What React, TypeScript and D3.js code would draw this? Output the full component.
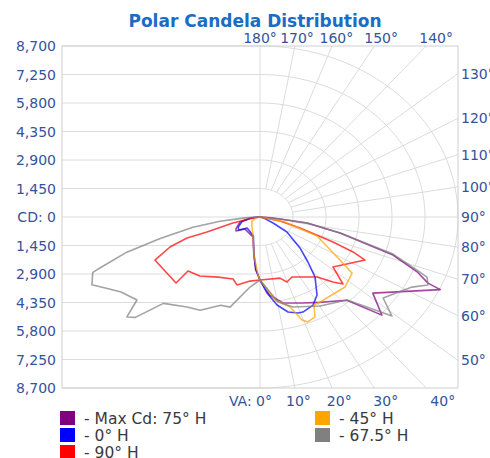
import * as d3 from "d3";

// candela values as [vertical angle, cd], right half then left half of each plane pair
const maxCdRight = [[0,3205],[6,3990],[13,4490],[23,4750],[31,5070],[42,5700],[47,7320],[52,6290],[65,8740],[65.5,8110],[68,7445],[71.7,6155],[77,3610],[81.6,2090],[86,500],[90,0]];
const maxCdLeft = [[0,3205],[4,2700],[8,1950],[17,1060],[47,900],[56,1270],[60,1220],[74,915],[83,440],[90,0]];
const h0Right = [[0,3205],[4.6,3880],[9.5,4540],[14.3,4990],[18.9,5160],[21.3,5190],[27.5,5050],[32.3,4690],[38.4,3890],[42.6,3110],[48.1,2360],[57.2,1410],[62,650],[70,200],[90,0]];
const h0Left = [[0,3205],[4,2650],[8,1900],[17,1000],[45,800],[55,1150],[62,1080],[74,820],[83,380],[90,0]];
const h90Right = [[0,3205],[15.8,3230],[19.7,3510],[24.7,3360],[39.4,3950],[44.1,4610],[46.9,4990],[51.6,4090],[64.6,5110],[66.5,4460],[68.4,3450],[72.3,1850],[77,900],[90,0]];
const h90Left = [[0,3205],[7.7,3290],[16.3,3600],[20.6,3370],[31,3570],[41.3,4000],[49,4190],[47.7,4990],[64.6,5110],[68.9,4240],[71.6,3380],[71.9,2450],[75.6,1230],[80.6,310],[90,0]];
const h45Right = [[0,3205],[8.9,4270],[16.1,4770],[19.4,5560],[21.5,5740],[25.4,5630],[27.9,5070],[31.4,5070],[46.4,5160],[54.8,4950],[59,3950],[68.9,2690],[77,1130],[90,0]];
const h45Left = [[0,3205],[1.7,2950],[7.8,1950],[18.6,970],[40,560],[60,410],[75,200],[90,0]];
const h67Right = [[0,3205],[10.4,4400],[17.6,4800],[30.2,5240],[42.2,5700],[49,7680],[52.7,6800],[61.9,7570],[64.9,8150],[67.4,7950],[68.6,7410],[72.1,6140],[77,3610],[81.6,2090],[83.4,890],[90,0]];
const h67Left = [[0,3205],[7,3590],[16,4770],[21,4810],[29,5420],[35,5590],[44,6110],[47,7490],[49,7750],[52,6860],[58,7200],[62,7700],[65,8150],[69,7870],[70,7370],[73,6120],[76,4520],[80,2990],[83,1770],[86,660],[90,0]];

const seriesNames = ["- Max Cd: 75° H", "- 0° H", "- 90° H", "- 45° H", "- 67.5° H"];
const seriesColors = ["#800080", "#0000ff", "#ff0000", "#ffa500", "#808080"];
const seriesRight = [maxCdRight, h0Right, h90Right, h45Right, h67Right];
const seriesLeft = [maxCdLeft, h0Left, h90Left, h45Left, h67Left];

const MAX_CD = 8700;
const STEP = 1450;
const topAngles = [180, 170, 160, 150, 140];
const sideAngles = [130, 120, 110, 100, 90, 80, 70, 60, 50];
const bottomAngles = [0, 10, 20, 30, 40];

const FONT = "'DejaVu Sans', Verdana, sans-serif";
const rad = (a: number) => (a * Math.PI) / 180;

export default function App() {
  const x = d3.scaleLinear().domain([-MAX_CD, MAX_CD]).range([62, 458]);
  const y = d3.scaleLinear().domain([MAX_CD, -MAX_CD]).range([46, 388]);
  const cx = x(0);
  const cy = y(0);

  // angle 0 = straight down, 180 = straight up, side +1 right / -1 left
  const pt = (a: number, cd: number, side = 1): [number, number] => [
    x(side * cd * Math.sin(rad(a))),
    y(-cd * Math.cos(rad(a))),
  ];
  const line = d3.line<[number, number]>();

  const cdTicks = d3.range(-MAX_CD, MAX_CD + 1, STEP);
  const rings = d3.range(STEP, MAX_CD + 1, STEP);
  const rays = d3.range(10, 171, 10).filter((a) => a !== 90);
  const edge = (a: number) =>
    MAX_CD / Math.max(Math.abs(Math.sin(rad(a))), Math.abs(Math.cos(rad(a))));

  const fmt = d3.format(",");
  const gridColor = "#dcdcdc";
  const axisColor = "#34539b";

  return (
    <svg width={490} height={458} style={{ position: "absolute", left: 0, top: 0, background: "#fff" }} fontFamily={FONT}>
      <text x={255} y={27} textAnchor="middle" fontSize={17} fontWeight="bold" fill="#1a6cc4">
        Polar Candela Distribution
      </text>

      {/* left half: horizontal grid */}
      {cdTicks.map((v) => (
        <line key={"h" + v} x1={x(-MAX_CD)} x2={cx} y1={y(v)} y2={y(v)} stroke={gridColor} />
      ))}
      {/* right half: rings and rays */}
      {rings.map((r) => (
        <path
          key={"r" + r}
          d={line(d3.range(0, 181, 2).map((a) => pt(a, r))) || ""}
          fill="none"
          stroke={gridColor}
        />
      ))}
      {rays.map((a) => {
        const [x1, y1] = pt(a, STEP);
        const [x2, y2] = pt(a, edge(a));
        return <line key={"ray" + a} x1={x1} y1={y1} x2={x2} y2={y2} stroke={gridColor} />;
      })}
      <line x1={cx} x2={x(MAX_CD)} y1={cy} y2={cy} stroke={gridColor} />
      <line x1={cx} x2={cx} y1={y(MAX_CD)} y2={y(-MAX_CD)} stroke={gridColor} />
      <rect x={x(-MAX_CD)} y={y(MAX_CD)} width={x(MAX_CD) - x(-MAX_CD)} height={y(-MAX_CD) - y(MAX_CD)} fill="none" stroke="#cfcfcf" />

      {/* candela labels */}
      {cdTicks.map((v) => (
        <text key={"t" + v} x={56} y={y(v) + 5} textAnchor="end" fontSize={14} fill={axisColor}>
          {v === 0 ? "CD: 0" : fmt(Math.abs(v))}
        </text>
      ))}
      {/* angle labels */}
      {topAngles.map((a) => (
        <text key={"ta" + a} x={x(MAX_CD * 1.06 * Math.tan(rad(180 - a)))} y={43} textAnchor="middle" fontSize={14} fill={axisColor}>
          {a}°
        </text>
      ))}
      {sideAngles.map((a) => (
        <text key={"sa" + a} x={461} y={y(-edge(a) * Math.cos(rad(a))) + 5} fontSize={14} fill={axisColor}>
          {a}°
        </text>
      ))}
      {bottomAngles.map((a) =>
        a === 0 ? (
          <text key={"ba" + a} x={cx + 12} y={406} textAnchor="end" fontSize={14} fill={axisColor}>
            VA: 0°
          </text>
        ) : (
          <text key={"ba" + a} x={x(MAX_CD * 1.1 * Math.tan(rad(a)))} y={406} textAnchor="middle" fontSize={14} fill={axisColor}>
            {a}°
          </text>
        )
      )}

      {/* curves */}
      {seriesNames.map((name, i) => {
        const pts = [
          ...seriesRight[i].map(([a, cd]) => pt(a, cd, 1)),
          ...seriesLeft[i].slice().reverse().map(([a, cd]) => pt(a, cd, -1)),
        ];
        return (
          <path key={name} d={line(pts) || ""} fill="none" stroke={seriesColors[i]} strokeOpacity={0.72} strokeWidth={1.6} strokeLinejoin="round" />
        );
      })}

      {/* legend */}
      {seriesNames.map((name, i) => {
        const col = i < 3 ? 0 : 1;
        const row = i < 3 ? i : i - 3;
        const lx = col === 0 ? 60 : 315;
        const ly = 411 + row * 17;
        return (
          <g key={"lg" + name}>
            <rect x={lx} y={ly} width={15} height={14} fill={seriesColors[i]} />
            <text x={lx + 24} y={ly + 13} fontSize={15.5} fill="#3a3a3a">
              {name}
            </text>
          </g>
        );
      })}
    </svg>
  );
}
